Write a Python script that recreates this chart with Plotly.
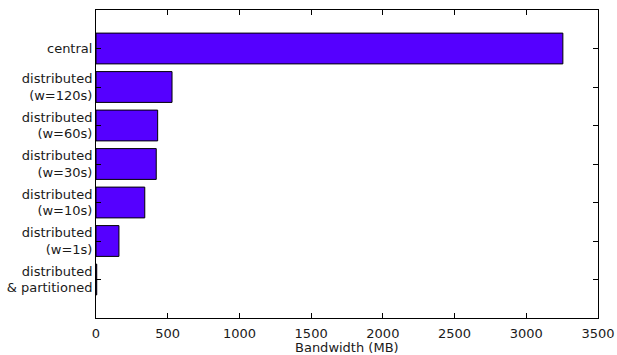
import plotly.graph_objects as go

categories = ["central", "distributed<br>(w=120s)", "distributed<br>(w=60s)",
              "distributed<br>(w=30s)", "distributed<br>(w=10s)", "distributed<br>(w=1s)",
              "distributed<br>& partitioned"]
bandwidth_mb = [3255, 530, 430, 420, 340, 160, 5]
x_ticks = [0, 500, 1000, 1500, 2000, 2500, 3000, 3500]
x_title = "Bandwidth (MB)"

n = len(categories)
positions = [n - 1 - i for i in range(n)]

fig = go.Figure(go.Bar(
    x=bandwidth_mb, y=positions, orientation="h", width=0.8,
    marker=dict(color="#5500ff", line=dict(color="black", width=1)),
))

font = dict(family="DejaVu Sans", size=13, color="#1a1a1a")
fig.update_layout(
    width=617, height=355,
    margin=dict(l=96, r=19, t=10, b=37),
    plot_bgcolor="white", paper_bgcolor="white",
    font=font, showlegend=False,
    xaxis=dict(range=[0, 3500], tickvals=x_ticks, ticktext=[str(v) for v in x_ticks],
               ticks="inside", ticklen=5, tickcolor="black", mirror="allticks",
               showline=True, linecolor="black", linewidth=1, showgrid=False, zeroline=False,
               ticklabelstandoff=3, automargin=False),
    yaxis=dict(range=[-1, n], tickvals=positions, ticktext=categories,
               ticks="inside", ticklen=5, tickcolor="black", mirror="allticks",
               showline=True, linecolor="black", linewidth=1, showgrid=False, zeroline=False,
               automargin=False),
    annotations=[dict(text=x_title, xref="paper", yref="paper", x=0.5, y=0,
                      xanchor="center", yanchor="top", yshift=-20, showarrow=False,
                      font=font)],
)
fig.write_html("out.html", config={"displayModeBar": False},
               post_script="document.body.style.margin='0';document.body.style.padding='0';")
